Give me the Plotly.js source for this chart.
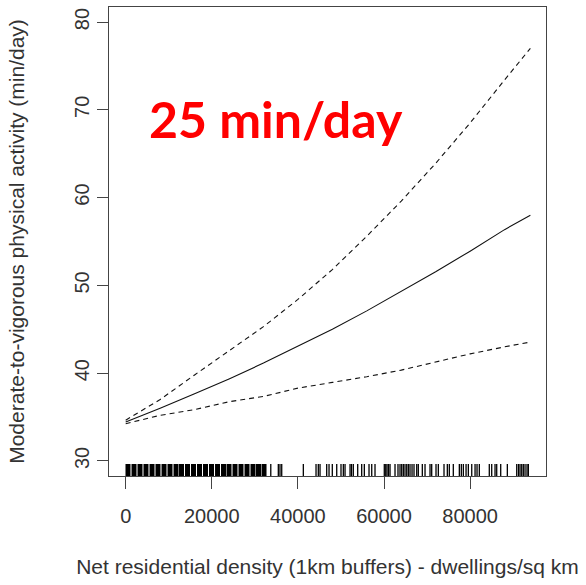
<!DOCTYPE html>
<html>
<head>
<meta charset="utf-8">
<script src="https://cdn.plot.ly/plotly-3.0.1.min.js"></script>
<style>html,body{margin:0;padding:0;background:#fff;}#chart{width:586px;height:585px;}</style>
</head>
<body>
<div id="chart"></div>
<script>
// Fitted curve: x = net residential density (dwellings/sq km), y = MVPA (min/day)
var fitX     = [0,     8000,  16000, 24000, 32000, 40000, 48000, 56000, 64000, 72000, 80000, 88000, 94000];
var fitMean  = [34.45, 36.0,  37.65, 39.35, 41.15, 43.05, 45.0,  47.1,  49.3,  51.55, 53.9,  56.35, 58.0];
var fitUpper = [34.65, 37.0,  39.8,  42.5,  45.3,  48.4,  51.8,  55.6,  59.6,  63.9,  68.5,  73.4,  77.0];
var fitLower = [34.25, 35.2,  35.85, 36.75, 37.35, 38.3,  38.95, 39.6,  40.35, 41.25, 42.2,  43.0,  43.55];

// Rug of observations (dense run near zero drawn as blocks, then individual marks)
var rugDense = [530, 1930, 3320, 4710, 6110, 7500, 8900, 10290, 11690, 12960, 14360, 15750,
                17140, 18540, 19930, 21330, 22720, 24000, 25390, 26780, 28180, 29570, 30850, 32130];
var rugSparse = [33700, 35450, 35840, 36240, 41260, 44210, 44740, 45140, 46690, 47230, 47990,
                 49020, 50010, 50550, 50950, 52110, 52450, 52870, 53890, 54820, 55430, 56520,
                 57150, 57910, 60070, 60400, 60700, 61050, 61400, 62560, 63250, 63720, 64110,
                 64490, 64880, 65280, 65650, 66040, 66510, 66970, 67600, 67970, 68900, 69530,
                 70690, 71080, 72080, 72620, 73940, 74710, 75170, 76100, 77500, 77960, 78430,
                 79060, 79590, 80380, 81150, 81610, 82140, 84460, 85020, 85790, 86180, 87110,
                 88650, 90830, 91250, 91600, 91990, 92360, 92760, 93220, 93530];

var xTicks = [0, 20000, 40000, 60000, 80000];
var yTicks = [30, 40, 50, 60, 70, 80];

var xTitle = 'Net residential density (1km buffers) - dwellings/sq km';
var yTitle = 'Moderate-to-vigorous physical activity (min/day)';
var note = '25 min/day';

var yRange = [28.29, 81.71];
var xRange = [-3880, 97630];
var rugLen = 1.37;

function rugLines(vals) {
  var xs = [], ys = [];
  vals.forEach(function (v) {
    xs.push(v, v, null);
    ys.push(yRange[0], yRange[0] + rugLen, null);
  });
  return {x: xs, y: ys};
}
var rd = rugLines(rugDense), rs = rugLines(rugSparse);

var traces = [
  {x: fitX, y: fitUpper, mode: 'lines', line: {color: '#111', width: 1.1, dash: '5px,4px'}, hoverinfo: 'skip'},
  {x: fitX, y: fitLower, mode: 'lines', line: {color: '#111', width: 1.1, dash: '5px,4px'}, hoverinfo: 'skip'},
  {x: fitX, y: fitMean, mode: 'lines', line: {color: '#111', width: 1.1}, hoverinfo: 'skip'},
  {x: rd.x, y: rd.y, mode: 'lines', connectgaps: false, line: {color: '#000', width: 5}, hoverinfo: 'skip'},
  {x: rs.x, y: rs.y, mode: 'lines', connectgaps: false, line: {color: '#000', width: 1.3}, hoverinfo: 'skip'}
];

var fam = 'Liberation Sans, Arial, sans-serif';
var axisFont = {family: fam, size: 20, color: '#333'};

var layout = {
  width: 586, height: 585,
  margin: {l: 109, r: 40, t: 7, b: 109, pad: 0},
  paper_bgcolor: '#fff', plot_bgcolor: '#fff',
  showlegend: false,
  xaxis: {
    range: xRange, tickmode: 'array', tickvals: xTicks, ticktext: xTicks.map(String),
    ticks: 'outside', ticklen: 12, tickcolor: '#444', tickwidth: 1,
    showline: true, linecolor: '#444', linewidth: 1, mirror: true,
    showgrid: false, zeroline: false, tickfont: axisFont, ticklabelstandoff: 10,
    title: {text: xTitle, font: {family: fam, size: 21, color: '#333'}, standoff: 33}
  },
  yaxis: {
    range: yRange, tickmode: 'array', tickvals: yTicks, ticktext: yTicks.map(String),
    ticks: 'outside', ticklen: 11, tickcolor: '#444', tickwidth: 1, tickangle: -90,
    showline: true, linecolor: '#444', linewidth: 1, mirror: true,
    showgrid: false, zeroline: false, tickfont: axisFont, ticklabelstandoff: 0,
    title: {text: yTitle, font: {family: fam, size: 21, color: '#333'}, standoff: 40}
  },
  annotations: [{
    text: '<b>' + note + '</b>', xref: 'paper', yref: 'paper', x: 0.087, y: 0.762,
    xanchor: 'left', yanchor: 'middle', showarrow: false,
    font: {family: 'Lato, Noto Sans, sans-serif', size: 50, color: '#ff0000'}
  }]
};

Plotly.newPlot('chart', traces, layout, {staticPlot: true, displayModeBar: false});
</script>
</body>
</html>
